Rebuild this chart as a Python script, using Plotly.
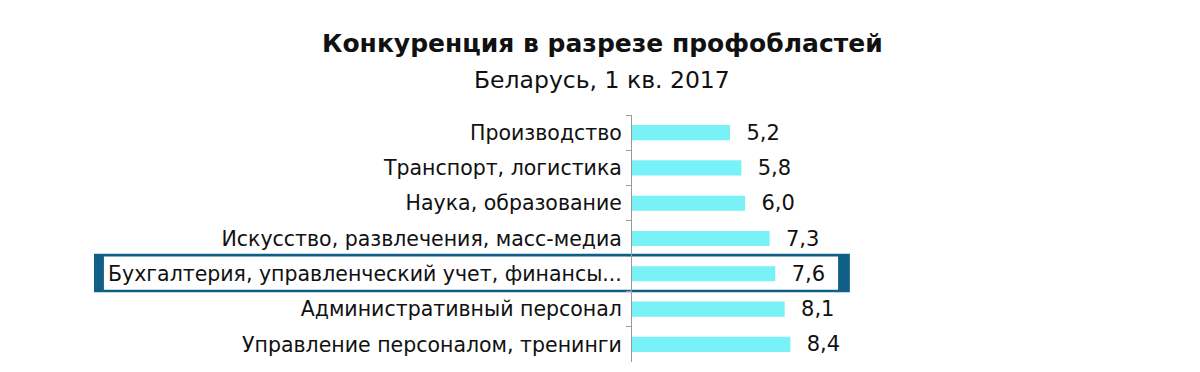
import plotly.graph_objects as go

categories = [
    "Производство",
    "Транспорт, логистика",
    "Наука, образование",
    "Искусство, развлечения, масс-медиа",
    "Бухгалтерия, управленческий учет, финансы...",
    "Административный персонал",
    "Управление персоналом, тренинги",
]
values = [5.2, 5.8, 6.0, 7.3, 7.6, 8.1, 8.4]
highlight = "Бухгалтерия, управленческий учет, финансы..."

title_text = "Конкуренция в разрезе профобластей"
subtitle_text = "Беларусь, 1 кв. 2017"

FONT = "DejaVu Sans"
BAR_COLOR = "#78F2F7"
BOX_COLOR = "#0F5F86"

fig = go.Figure()
fig.add_trace(go.Bar(
    x=values,
    y=categories,
    orientation="h",
    marker=dict(color=BAR_COLOR, line=dict(width=0)),
    text=["\u00a0\u00a0" + f"{v:.1f}".replace(".", ",") for v in values],
    textposition="outside",
    constraintext="none",
    textfont=dict(family=FONT, size=21, color="#111111"),
    cliponaxis=False,
    hoverinfo="skip",
))

hi = categories.index(highlight)
# highlight box: dark frame with white interior, behind the bars
fig.add_shape(type="rect", xref="paper", yref="y", layer="below",
              x0=-1.462, x1=0.592, y0=hi - 0.57, y1=hi + 0.52,
              fillcolor=BOX_COLOR, line=dict(width=0))
fig.add_shape(type="rect", xref="paper", yref="y", layer="below",
              x0=-1.435, x1=0.560, y0=hi - 0.49, y1=hi + 0.45,
              fillcolor="white", line=dict(width=0))

# the page body has an 8px margin, so the figure is offset by (8, 8)
fig.update_layout(
    width=1200, height=372,
    margin=dict(l=624, r=208, t=107, b=18, autoexpand=False),
    paper_bgcolor="white", plot_bgcolor="white",
    showlegend=False,
    bargap=0.57,
    font=dict(family=FONT, size=18, color="#111111"),
    annotations=[
        dict(text="<b>" + title_text + "</b>", xref="paper", yref="paper",
             x=-0.0815, y=1.0, xanchor="center", yanchor="bottom",
             yshift=55, showarrow=False,
             font=dict(family=FONT, size=25, color="#111111")),
        dict(text=subtitle_text, xref="paper", yref="paper",
             x=-0.0815, y=1.0, xanchor="center", yanchor="bottom",
             yshift=19, showarrow=False,
             font=dict(family=FONT, size=23.5, color="#111111")),
    ],
)
fig.update_xaxes(range=[0, 19.52], visible=False, fixedrange=True)
fig.update_yaxes(
    automargin=False,
    categoryorder="array", categoryarray=categories, autorange="reversed",
    showline=True, linecolor="#9a9a9a", linewidth=1,
    ticks="outside", tickson="boundaries", ticklen=5, tickcolor="#9a9a9a",
    showgrid=False, zeroline=False,
    tickfont=dict(family=FONT, size=20.5, color="#111111"),
    ticklabelstandoff=5,
)

fig.write_html("out.html")
